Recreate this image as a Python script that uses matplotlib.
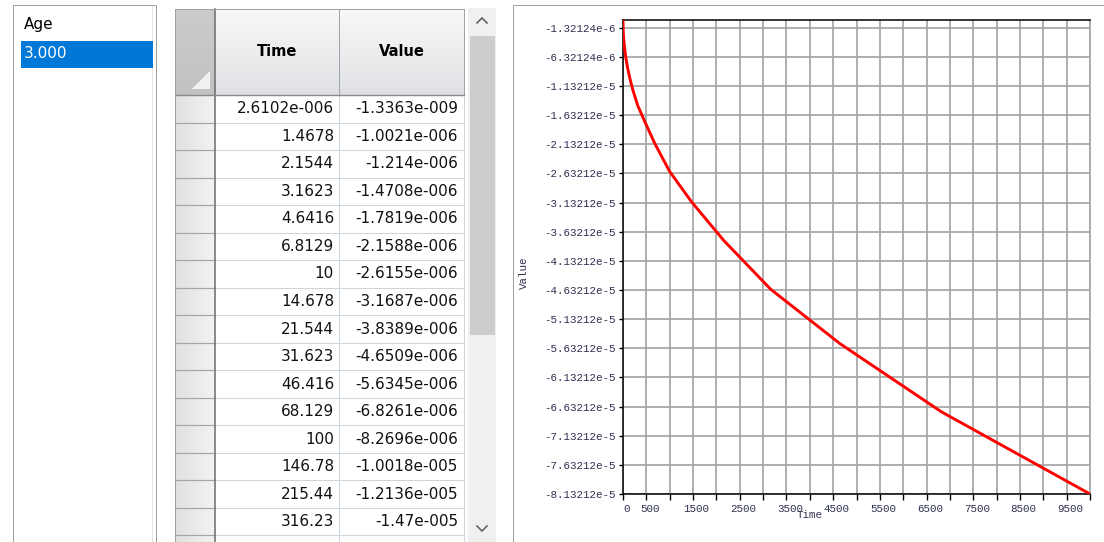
import matplotlib
matplotlib.use("Agg")
import matplotlib.pyplot as plt
import matplotlib.patches as mpatches
import matplotlib.transforms as mtransforms
from matplotlib.ticker import FixedLocator
import numpy as np

# ages in the list on the left
ages = [3.000]
selected_age = 0

# time / value series for the selected age
time = [2.6102e-6, 1.4678, 2.1544, 3.1623, 4.6416, 6.8129, 10, 14.678, 21.544,
        31.623, 46.416, 68.129, 100, 146.78, 215.44, 316.23,
        464.16, 681.29, 1000, 1467.8, 2154.4, 3162.3, 4641.6, 6812.9, 10000]
value = [-1.3363e-9, -1.0021e-6, -1.214e-6, -1.4708e-6, -1.7819e-6, -2.1588e-6,
         -2.6155e-6, -3.1687e-6, -3.8389e-6, -4.6509e-6, -5.6345e-6, -6.8261e-6,
         -8.2696e-6, -1.0018e-5, -1.2136e-5, -1.47e-5,
         -1.74e-5, -2.12e-5, -2.60e-5, -3.12e-5, -3.78e-5, -4.62e-5, -5.55e-5,
         -6.72e-5, -8.132124e-5]

visible_rows = 16
x_labelled = [0, 500, 1500, 2500, 3500, 4500, 5500, 6500, 7500, 8500, 9500]
x_step = 500
y_step = 5e-6

UI_FONT = "DejaVu Sans"
AX_FONT = "Liberation Mono"


def cell_text(v):
    # windows style %g with a three digit exponent
    s = "%.5g" % v
    if "e" in s:
        m, e = s.split("e")
        s = "%se%+04d" % (m, int(e))
    return s


def tick_text(v):
    s = "%g" % v
    if "e" in s:
        m, e = s.split("e")
        s = "%se%d" % (m, int(e))
    return s


W, H = 1104, 542
fig = plt.figure(figsize=(W / 100, H / 100), dpi=100)
fig.patch.set_facecolor("white")

# background axes in pixel units for the panels around the chart
ui = fig.add_axes([0, 0, 1, 1])
ui.set_axis_off()


def px(lw):
    return lw * 0.72


def box(x0, y0, x1, y1, fc="none", ec="none", lw=1.0, z=1):
    ui.add_patch(mpatches.Rectangle((x0, y0), x1 - x0, y1 - y0, facecolor=fc,
                                    edgecolor=ec, linewidth=px(lw), zorder=z))


def vgrad(x0, y0, x1, y1, c_top, c_bot, z=1):
    g = np.linspace(0, 1, 64)[:, None, None]
    img = (1 - g) * np.array(c_top)[None, None, :] + g * np.array(c_bot)[None, None, :]
    ui.imshow(img, extent=(x0, x1, y1, y0), aspect="auto", zorder=z, interpolation="bilinear")


def hgrad(x0, y0, x1, y1, c_left, c_right, z=1):
    g = np.linspace(0, 1, 64)[None, :, None]
    img = (1 - g) * np.array(c_left)[None, None, :] + g * np.array(c_right)[None, None, :]
    ui.imshow(img, extent=(x0, x1, y1, y0), aspect="auto", zorder=z, interpolation="bilinear")


# age list
box(13, 5, 156, 600, fc="white", ec="#a0a0a0")
ui.plot([152, 152], [6, 600], color="#e4e4e4", lw=px(1), zorder=2)
ui.text(24, 25, "Age", fontsize=11, family=UI_FONT, va="center", ha="left", color="black", zorder=3)
row_y = 54
for i, a in enumerate(ages):
    if i == selected_age:
        box(21, row_y - 13.5, 153, row_y + 13.5, fc="#0078d7", z=2)
        c = "white"
    else:
        c = "black"
    ui.text(24, row_y, "%.3f" % a, fontsize=11, family=UI_FONT, va="center", ha="left", color=c, zorder=3)
    row_y += 27

# data table
tx0, tx1, tx2, tx3 = 175, 215, 339, 464
hy0, hy1 = 9, 95
rh = 27.53
vgrad(tx1, hy0, tx3, hy1, (0.975, 0.975, 0.975), (0.875, 0.88, 0.89))
vgrad(tx0, hy0, tx1, hy1, (0.80, 0.80, 0.80), (0.76, 0.76, 0.76))
ui.add_patch(mpatches.Polygon([(192, 89), (210, 89), (210, 71)], closed=True,
                              facecolor="#f2f2f2", edgecolor="none", zorder=2))
ui.text((tx1 + tx2) / 2, 52, "Time", fontsize=10.5, weight="bold", family=UI_FONT,
        ha="center", va="center", zorder=3)
ui.text((tx2 + tx3) / 2, 52, "Value", fontsize=10.5, weight="bold", family=UI_FONT,
        ha="center", va="center", zorder=3)
ui.plot([tx2, tx2], [hy0, hy1], color="#a0a4aa", lw=px(1), zorder=3)
ui.plot([tx3, tx3], [hy0, hy1], color="#a0a4aa", lw=px(1), zorder=3)

n_rows = visible_rows + 1
for r in range(n_rows):
    y0 = hy1 + r * rh
    y1 = y0 + rh
    hgrad(tx0 + 1, y0, tx1, y1, (0.88, 0.88, 0.88), (0.955, 0.955, 0.955), z=1)
    ui.plot([tx0, tx1], [y1, y1], color="#a6a6a6", lw=px(1.2), zorder=3)
    ui.plot([tx1, tx3], [y1, y1], color="#ccd4de", lw=px(1), zorder=3)
    if r < visible_rows and r < len(time):
        yc = y0 + rh / 2
        ui.text(tx2 - 5, yc, cell_text(time[r]), fontsize=11, family=UI_FONT,
                ha="right", va="center", color="#111111", zorder=3)
        ui.text(tx3 - 6, yc, cell_text(value[r]), fontsize=11, family=UI_FONT,
                ha="right", va="center", color="#111111", zorder=3)
ui.plot([tx2, tx2], [hy1, H], color="#ccd4de", lw=px(1), zorder=3)
ui.plot([tx3, tx3], [hy1, H], color="#ccd4de", lw=px(1), zorder=3)
ui.plot([tx1, tx1], [hy0, H], color="#707070", lw=px(1.6), zorder=4)
ui.plot([tx0, tx3], [hy1, hy1], color="#8a8a8a", lw=px(1.4), zorder=4)
ui.plot([tx0, tx0], [hy0, H], color="#a0a0a0", lw=px(1), zorder=4)
ui.plot([tx0, tx3], [hy0, hy0], color="#a0a0a0", lw=px(1), zorder=4)

# vertical scrollbar
box(468, 8, 496, H + 10, fc="#f0f0f0", z=1)
box(469.5, 36, 495, 335, fc="#cdcdcd", z=2)
ui.plot([477, 482, 487], [23, 18, 23], color="#606060", lw=px(1.6), zorder=3,
        solid_joinstyle="miter")
ui.plot([477, 482, 487], [526, 531, 526], color="#606060", lw=px(1.6), zorder=3,
        solid_joinstyle="miter")

# chart panel frame
box(513, 5, 1120, 600, fc="white", ec="#a0a0a0", z=1)

ui.set_xlim(0, W)
ui.set_ylim(H, 0)

# the chart itself
ax = fig.add_axes([623 / W, 1 - 494 / H, 467 / W, 474 / H])
ax.set_facecolor("white")
ax.plot(time, value, color="#ff0000", lw=2.1, zorder=3)

ymin, ymax = min(value), max(value)
ax.set_xlim(0, 10000)
ax.set_ylim(ymin, ymax)

x_ticks = np.arange(0, 10000 + 1, x_step)
x_tick_labels = [str(int(t)) if int(t) in x_labelled else "" for t in x_ticks]
n_y = int((ymax - ymin) / y_step)
y_ticks = [ymin + k * y_step for k in range(n_y + 1)]
ax.xaxis.set_major_locator(FixedLocator(x_ticks))
ax.yaxis.set_major_locator(FixedLocator(y_ticks))
ax.set_xticklabels(x_tick_labels, fontsize=7.8, family=AX_FONT, color="#2e3050")
ax.set_yticklabels([tick_text(v) for v in y_ticks], fontsize=7.8, family=AX_FONT, color="#2e3050")

ax.grid(True, color="#a6a6a6", lw=1.25, zorder=1)
ax.set_axisbelow(True)
ax.tick_params(axis="y", direction="out", length=3, width=1.0, pad=2, colors="black",
               labelcolor="#2e3050")
ax.tick_params(axis="x", direction="out", length=4, width=1.0, pad=3, colors="black",
               labelcolor="#2e3050")
for side in ("left", "bottom", "top"):
    ax.spines[side].set_color("black")
    ax.spines[side].set_linewidth(1.1)
ax.spines["right"].set_color("#a6a6a6")
ax.spines["right"].set_linewidth(1.25)

shift = mtransforms.ScaledTranslation(3.5 / 100, 0, fig.dpi_scale_trans)
for lbl in ax.get_xticklabels():
    lbl.set_transform(lbl.get_transform() + shift)

ax.text(0.40, -0.044, "Time", transform=ax.transAxes, fontsize=7.8, family=AX_FONT,
        color="#2e3050", ha="center", va="center")
ax.text(-0.212, 0.466, "Value", transform=ax.transAxes, fontsize=7.8, family=AX_FONT,
        color="#2e3050", ha="center", va="center", rotation=90)

fig.savefig("out.png", dpi=100, facecolor="white")
